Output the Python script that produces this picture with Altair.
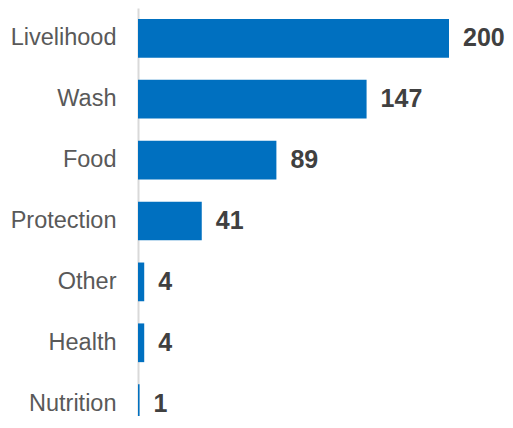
import altair as alt
import pandas as pd

categories = ["Livelihood", "Wash", "Food", "Protection", "Other", "Health", "Nutrition"]
values = [200, 147, 89, 41, 4, 4, 1]

df = pd.DataFrame({"category": categories, "value": values})

y = alt.Y("category:N", sort=categories,
          scale=alt.Scale(paddingInner=0.364, paddingOuter=0.18, range=[0, 426]),
          axis=alt.Axis(title=None, ticks=False, labelPadding=22, labelFontSize=23.5,
                        labelFont="Liberation Sans", labelColor="#595959",
                        domainColor="#D9D9D9", domainWidth=2, labelLimit=300))
x = alt.X("value:Q", scale=alt.Scale(domain=[0, 200], nice=False), axis=None)

bars = alt.Chart(df).mark_bar(color="#0070C0").encode(x=x, y=y)
labels = alt.Chart(df).mark_text(align="left", baseline="middle", dx=14, fontSize=25,
                                 fontWeight="bold", font="Liberation Sans",
                                 color="#404040").encode(x=x, y=y, text="value:Q")

chart = (bars + labels).properties(
    width=311, height=408,
    autosize=alt.AutoSizeParams(type="none"),
    padding={"left": 130, "top": 0, "right": 56, "bottom": 0},
).configure_view(stroke=None).configure_axis(grid=False)

chart.save("out.html", embed_options={"renderer": "svg", "actions": False})
